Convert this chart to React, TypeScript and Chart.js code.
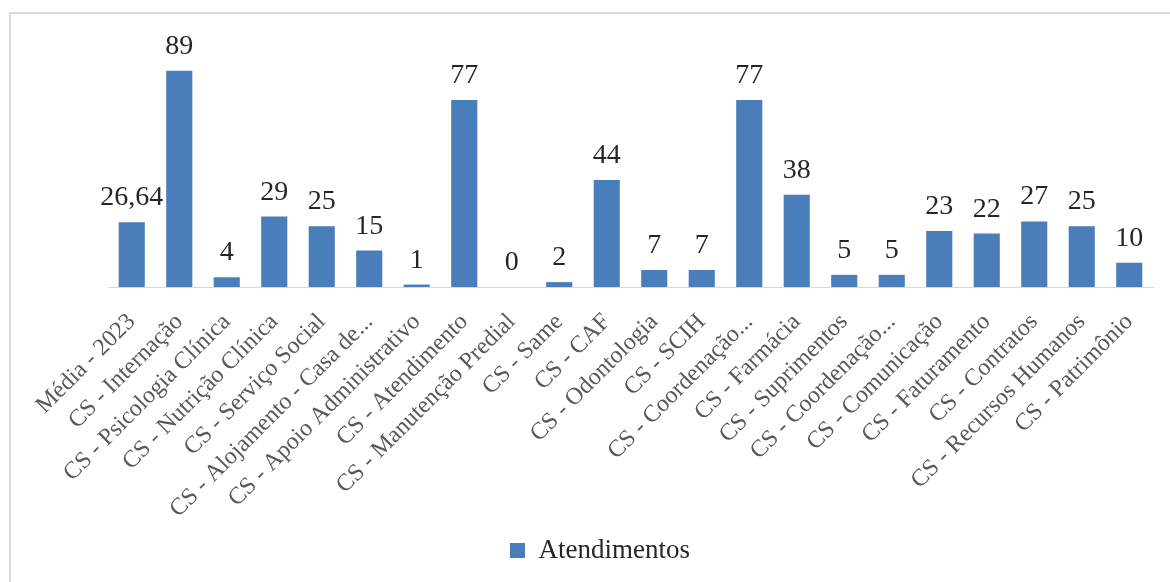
import React, { useEffect, useRef } from "react";
import { Chart, registerables } from "chart.js";

Chart.register(...registerables);

const categories: string[] = [
  "Média - 2023",
  "CS - Internação",
  "CS - Psicologia Clínica",
  "CS - Nutrição Clínica",
  "CS - Serviço Social",
  "CS - Alojamento - Casa de...",
  "CS - Apoio Administrativo",
  "CS - Atendimento",
  "CS - Manutenção Predial",
  "CS - Same",
  "CS - CAF",
  "CS - Odontologia",
  "CS - SCIH",
  "CS - Coordenação...",
  "CS - Farmácia",
  "CS - Suprimentos",
  "CS - Coordenação...",
  "CS - Comunicação",
  "CS - Faturamento",
  "CS - Contratos",
  "CS - Recursos Humanos",
  "CS - Patrimônio",
];

const atendimentos: number[] = [
  26.64, 89, 4, 29, 25, 15, 1, 77, 0, 2, 44, 7, 7, 77, 38, 5, 5, 23, 22, 27, 25, 10,
];

const seriesName = "Atendimentos";
const barColor = "#4A7EBB";
const serif = "'Liberation Serif', 'DejaVu Serif', serif";

const fmt = (v: number) => String(v).replace(".", ",");

const valueLabels = {
  id: "valueLabels",
  afterDatasetsDraw(chart: any) {
    const ctx = chart.ctx;
    const meta = chart.getDatasetMeta(0);
    const data = chart.data.datasets[0].data as number[];
    ctx.save();
    ctx.font = `28px ${serif}`;
    ctx.fillStyle = "#262626";
    ctx.textAlign = "center";
    ctx.textBaseline = "alphabetic";
    meta.data.forEach((bar: any, i: number) => {
      ctx.fillText(fmt(data[i]), bar.x, bar.y - 17);
    });
    ctx.restore();
  },
};

const frame = {
  id: "frame",
  beforeDraw(chart: any) {
    const ctx = chart.ctx;
    ctx.save();
    ctx.fillStyle = "#ffffff";
    ctx.fillRect(0, 0, chart.width, chart.height);
    ctx.strokeStyle = "#d9d9d9";
    ctx.lineWidth = 2;
    ctx.beginPath();
    ctx.moveTo(10, chart.height + 5);
    ctx.lineTo(10, 13);
    ctx.lineTo(chart.width + 5, 13);
    ctx.stroke();
    ctx.restore();
  },
};

export default function App() {
  const ref = useRef<HTMLCanvasElement | null>(null);

  useEffect(() => {
    if (!ref.current) return;
    const chart = new Chart(ref.current, {
      type: "bar",
      data: {
        labels: categories,
        datasets: [
          {
            label: seriesName,
            data: atendimentos,
            backgroundColor: barColor,
            borderWidth: 0,
            categoryPercentage: 1,
            barPercentage: 0.55,
          },
        ],
      },
      plugins: [frame, valueLabels],
      options: {
        animation: false,
        responsive: false,
        devicePixelRatio: 1,
        layout: { padding: { left: 30, right: 0, top: 44, bottom: 8 } },
        plugins: {
          tooltip: { enabled: false },
          legend: {
            display: true,
            position: "bottom",
            labels: {
              boxWidth: 15,
              boxHeight: 15,
              padding: 10,
              color: "#262626",
              font: { family: serif, size: 27 },
            },
          },
        },
        scales: {
          x: {
            grid: { display: true, drawOnChartArea: false, drawTicks: false, color: "rgba(0,0,0,0)" },
            border: { display: true, color: "#d9d9d9", width: 1 },
            ticks: {
              autoSkip: false,
              minRotation: 45,
              maxRotation: 45,
              padding: 21,
              color: "#595959",
              font: { family: serif, size: 24 },
            },
            afterFit: (s: any) => {
              s.paddingLeft = 0;
              s.paddingRight = 17;
              s.height = 240;
            },
          },
          y: {
            min: 0,
            max: 100,
            grid: { display: false },
            border: { display: false },
            ticks: { display: false },
            afterFit: (s: any) => {
              s.width = 78;
            },
          },
        },
      },
    });
    return () => chart.destroy();
  }, []);

  return (
    <canvas
      ref={ref}
      width={1170}
      height={582}
      style={{ position: "fixed", left: 0, top: 0, width: 1170, height: 582, display: "block" }}
    />
  );
}
